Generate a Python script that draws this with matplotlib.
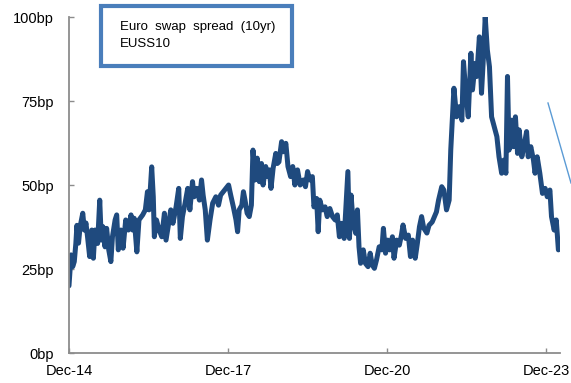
import matplotlib
matplotlib.use("Agg")
import matplotlib.pyplot as plt
from matplotlib.patches import Rectangle
from matplotlib.lines import Line2D

# Data: decimal year, spread in bp
years = [
    2014.92, 2014.94, 2014.96, 2014.99, 2015.02, 2015.05, 2015.07, 2015.10, 2015.13, 2015.18,
    2015.21, 2015.24, 2015.27, 2015.31, 2015.35, 2015.38, 2015.41, 2015.46, 2015.50, 2015.53,
    2015.56, 2015.60, 2015.63, 2015.67, 2015.71, 2015.74, 2015.79, 2015.82, 2015.85, 2015.90,
    2015.94, 2015.99, 2016.04, 2016.09, 2016.12, 2016.15, 2016.20, 2016.24, 2016.31, 2016.36,
    2016.40, 2016.43, 2016.48, 2016.51, 2016.53, 2016.57, 2016.62, 2016.67, 2016.72, 2016.75,
    2016.80, 2016.84, 2016.88, 2016.94, 2016.99, 2017.02, 2017.06, 2017.11, 2017.16, 2017.20,
    2017.25, 2017.28, 2017.33, 2017.38, 2017.42, 2017.45, 2017.49, 2017.53, 2017.58, 2017.63,
    2017.69, 2017.74, 2017.78, 2017.83, 2017.88, 2017.93, 2017.97, 2018.02, 2018.07, 2018.10,
    2018.13, 2018.18, 2018.21, 2018.24, 2018.28, 2018.32, 2018.36, 2018.39, 2018.43, 2018.47,
    2018.51, 2018.55, 2018.58, 2018.63, 2018.66, 2018.70, 2018.73, 2018.77, 2018.82, 2018.85,
    2018.88, 2018.93, 2018.96, 2019.01, 2019.05, 2019.10, 2019.14, 2019.18, 2019.23, 2019.28,
    2019.34, 2019.38, 2019.42, 2019.46, 2019.51, 2019.54, 2019.59, 2019.62, 2019.65, 2019.70,
    2019.75, 2019.79, 2019.84, 2019.89, 2019.94, 2019.98, 2020.02, 2020.06, 2020.11, 2020.14,
    2020.18, 2020.21, 2020.24, 2020.28, 2020.33, 2020.36, 2020.39, 2020.42, 2020.47, 2020.51,
    2020.56, 2020.60, 2020.64, 2020.68, 2020.72, 2020.77, 2020.82, 2020.85, 2020.89, 2020.93,
    2020.97, 2021.02, 2021.05, 2021.10, 2021.15, 2021.19, 2021.22, 2021.27, 2021.32, 2021.36,
    2021.40, 2021.45, 2021.49, 2021.53, 2021.57, 2021.61, 2021.67, 2021.71, 2021.77, 2021.85,
    2021.89, 2021.95, 2021.99, 2022.04, 2022.09, 2022.12, 2022.18, 2022.23, 2022.28, 2022.33,
    2022.36, 2022.40, 2022.45, 2022.50, 2022.53, 2022.58, 2022.61, 2022.66, 2022.70, 2022.73,
    2022.77, 2022.81, 2022.85, 2022.89, 2022.94, 2022.99, 2023.03, 2023.08, 2023.12, 2023.16,
    2023.19, 2023.22, 2023.27, 2023.30, 2023.34, 2023.38, 2023.41, 2023.46, 2023.50, 2023.55,
    2023.58, 2023.63, 2023.68, 2023.71, 2023.75, 2023.80, 2023.85, 2023.90, 2023.94, 2023.99,
    2024.02, 2024.07, 2024.11, 2024.15,
]
spread_bp = [
    20.0, 24.7, 29.2, 25.7, 27.2, 32.7, 38.0, 32.7, 37.6, 41.6,
    36.6, 38.7, 34.6, 28.7, 36.6, 28.2, 36.6, 32.6, 45.5, 33.6,
    37.6, 31.6, 37.1, 30.7, 27.2, 34.6, 39.6, 41.1, 30.7, 36.6,
    31.2, 39.6, 36.6, 41.1, 36.6, 40.1, 30.1, 39.6, 41.1, 42.6,
    48.0, 42.6, 55.4, 46.5, 34.6, 39.6, 36.6, 34.6, 41.6, 33.6,
    38.6, 42.6, 38.6, 43.5, 49.0, 34.1, 40.6, 44.6, 49.0, 42.6,
    51.0, 46.5, 49.0, 45.5, 51.5, 47.0, 42.6, 33.6, 39.6, 44.6,
    46.5, 44.0, 47.0, 48.0, 49.0, 50.0, 47.0, 43.5, 39.6, 36.1,
    42.6, 44.0, 48.0, 45.5, 41.6, 40.6, 44.0, 60.4, 51.5, 58.0,
    51.0, 56.4, 50.0, 55.5, 52.5, 54.5, 49.0, 55.0, 59.4, 56.4,
    56.9, 62.9, 59.9, 62.4, 55.5, 52.5, 55.5, 50.0, 54.5, 50.0,
    51.5, 49.5, 54.0, 51.5, 52.5, 43.5, 46.0, 36.1, 45.5, 42.6,
    43.5, 40.6, 43.0, 40.6, 39.6, 41.1, 34.6, 38.6, 34.1, 42.6,
    54.0, 34.1, 47.0, 38.6, 35.6, 42.6, 31.6, 26.7, 30.7, 26.7,
    25.7, 29.7, 26.2, 25.2, 27.7, 31.6, 30.7, 37.1, 29.7, 33.6,
    30.7, 34.6, 28.2, 33.6, 32.1, 35.1, 38.1, 34.1, 35.1, 28.7,
    33.6, 28.2, 32.6, 37.6, 40.6, 37.2, 35.7, 38.0, 39.0, 42.0,
    45.5, 49.5, 48.5, 42.6, 45.5, 60.4, 78.8, 70.3, 73.3, 69.3,
    86.7, 78.3, 70.3, 89.2, 78.3, 86.2, 82.3, 94.1, 77.3, 86.2,
    100.0, 90.2, 85.2, 70.3, 67.4, 64.4, 58.4, 53.5, 57.4, 53.5,
    82.3, 60.4, 69.3, 61.4, 70.3, 59.4, 66.4, 58.4, 61.4, 65.9,
    58.4, 61.4, 57.4, 53.5, 58.4, 53.5, 47.5, 49.0, 46.5, 48.5,
    40.6, 36.6, 39.6, 30.7,
]
tick_years = [2014.92, 2017.92, 2020.92, 2023.92]
tick_labels = ["Dec-14", "Dec-17", "Dec-20", "Dec-23"]
y_ticks = [0, 25, 50, 75, 100]

line_color = "#1f4a7e"
axis_color = "#8c8c8c"

plt.rcParams["font.family"] = ["Liberation Sans", "DejaVu Sans"]

fig = plt.figure(figsize=(5.71, 3.83), dpi=100)
ax = fig.add_axes([0.1208, 0.0783, 0.8599, 0.8773])

ax.plot(years, spread_bp, color=line_color, lw=3.6, solid_joinstyle="round",
        solid_capstyle="round")

ax.set_xlim(2014.92, 2024.18)
ax.set_ylim(0, 100)
ax.set_xticks(tick_years)
ax.set_xticklabels(tick_labels)
ax.set_yticks(y_ticks)
ax.set_yticklabels([f"{v}bp" for v in y_ticks])

for s in ["top", "right"]:
    ax.spines[s].set_visible(False)
for s in ["left", "bottom"]:
    ax.spines[s].set_color(axis_color)
    ax.spines[s].set_linewidth(1.3)

ax.tick_params(axis="both", direction="in", length=3.5, width=1, color=axis_color,
               labelsize=10.5, labelcolor="black")
ax.tick_params(axis="y", pad=11)
ax.tick_params(axis="x", pad=8)

# legend-like box
fig.add_artist(Rectangle((101 / 571, 1 - 66 / 383), 191 / 571, 60 / 383,
                         transform=fig.transFigure, fill=False,
                         edgecolor="#4a7ebb", linewidth=3))
fig.text(120 / 571, 1 - 27 / 383, "Euro  swap  spread  (10yr)", fontsize=9.5, va="center")
fig.text(120 / 571, 1 - 44 / 383, "EUSS10", fontsize=9.5, va="center")

# thin arrow line cut at the right edge
fig.add_artist(Line2D([548 / 571, 571 / 571], [1 - 103 / 383, 1 - 183 / 383],
                      transform=fig.transFigure, color="#5b9bd5", lw=1))

fig.savefig("out.png", dpi=100)
